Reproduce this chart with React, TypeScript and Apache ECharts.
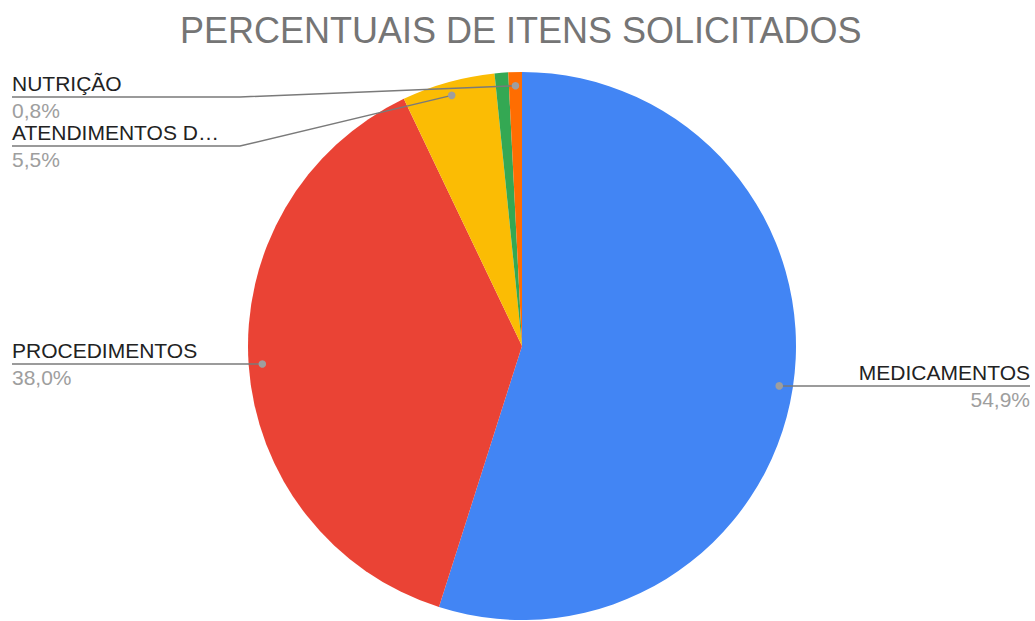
import React, { useEffect, useRef } from 'react';
import * as echarts from 'echarts';

const TITLE = 'PERCENTUAIS DE ITENS SOLICITADOS';
const CATEGORIES = ['MEDICAMENTOS', 'PROCEDIMENTOS', 'ATENDIMENTOS D…', 'OUTROS', 'NUTRIÇÃO'];
const VALUES = [54.9, 38.0, 5.5, 0.8, 0.8];
const COLORS = ['#4285F4', '#EA4335', '#FBBC04', '#34A853', '#FF6D01'];
const LABELED = [true, true, true, false, true];

// layout constants
const CX = 522;
const CY = 346;
const R = 274;
const DOT_FRAC = 0.95;
const LEFT_X = 12;
const RIGHT_X = 1030;
const LEFT_BEND = 240;
const BLOCK = 49;
const FONT = "'Liberation Sans', Arial, Helvetica, sans-serif";
const LINE_COLOR = '#7a7a7a';

function fmt(v: number) {
  return v.toFixed(1).replace('.', ',') + '%';
}

type Geo = { i: number; dotX: number; dotY: number; right: boolean; lineY: number };

function computeGeometry(): Geo[] {
  const total = VALUES.reduce((a, b) => a + b, 0);
  let acc = 0;
  const items: Geo[] = VALUES.map((v, i) => {
    const mid = ((acc + v / 2) / total) * 2 * Math.PI;
    acc += v;
    const dotX = CX + R * DOT_FRAC * Math.sin(mid);
    const dotY = CY - R * DOT_FRAC * Math.cos(mid);
    return { i, dotX, dotY, right: Math.sin(mid) > 0, lineY: dotY };
  });
  for (const side of [true, false]) {
    const list = items
      .filter((it) => LABELED[it.i] && it.right === side)
      .sort((a, b) => a.dotY - b.dotY);
    let prev = CY - R + 25 - BLOCK;
    for (const it of list) {
      it.lineY = Math.max(it.dotY, prev + BLOCK);
      prev = it.lineY;
    }
  }
  return items;
}

function linePoints(g: Geo): number[][] {
  const endX = g.right ? RIGHT_X : LEFT_X;
  const bendX = g.right ? g.dotX + 20 : Math.min(LEFT_BEND, g.dotX - 5);
  return [
    [g.dotX, g.dotY],
    [bendX, g.lineY],
    [endX, g.lineY],
  ];
}

export default function App() {
  const ref = useRef<HTMLDivElement>(null);

  useEffect(() => {
    if (!ref.current) return;
    const chart = echarts.init(ref.current, null, { renderer: 'svg' });
    const geo = computeGeometry();

    const richFor = (right: boolean) => ({
      n: { fontFamily: FONT, fontSize: 21, color: '#222222', lineHeight: 27, align: right ? 'right' : 'left' },
      p: { fontFamily: FONT, fontSize: 21, color: '#9e9e9e', lineHeight: 27, align: right ? 'right' : 'left' },
    });

    const labeledGeo = geo.filter((g) => LABELED[g.i]);

    const option: any = {
      animation: false,
      title: {
        text: TITLE,
        left: 180,
        top: 12,
        padding: 0,
        textStyle: {
          fontFamily: FONT,
          fontSize: 36,
          fontWeight: 'normal',
          color: '#757575',
        },
      },
      series: [
        {
          type: 'pie',
          center: [CX, CY],
          radius: R,
          startAngle: 90,
          clockwise: true,
          silent: true,
          avoidLabelOverlap: false,
          emphasis: { disabled: true },
          itemStyle: { borderWidth: 0 },
          data: CATEGORIES.map((name, i) => ({
            name,
            value: VALUES[i],
            itemStyle: { color: COLORS[i] },
            label: {
              show: LABELED[i],
              rich: richFor(geo[i].right),
            },
            labelLine: { show: false },
          })),
          label: {
            position: 'outside',
            fontFamily: FONT,
            formatter: (p: any) => `{n|${p.name}}\n{p|${fmt(p.value)}}`,
          },
          labelLine: { show: false },
          labelLayout: (params: any) => {
            const g = geo[params.dataIndex];
            if (!g || !LABELED[g.i]) return {};
            return {
              x: g.right ? RIGHT_X : LEFT_X,
              y: g.lineY,
              align: g.right ? 'right' : 'left',
              verticalAlign: 'middle',
            };
          },
        },
      ],
      graphic: [
        ...labeledGeo.map((g) => ({
          type: 'polyline',
          z: 99,
          silent: true,
          shape: { points: linePoints(g) },
          style: { stroke: LINE_COLOR, lineWidth: 1.5, fill: null },
        })),
        ...labeledGeo.map((g) => ({
          type: 'circle',
          z: 100,
          silent: true,
          shape: { cx: g.dotX, cy: g.dotY, r: 3.8 },
          style: { fill: '#9e9e9e' },
        })),
      ],
    };

    chart.setOption(option);
    return () => {
      chart.dispose();
    };
  }, []);

  return (
    <div
      ref={ref}
      style={{ position: 'absolute', left: 0, top: 0, width: 1035, height: 621, background: '#ffffff' }}
    />
  );
}
